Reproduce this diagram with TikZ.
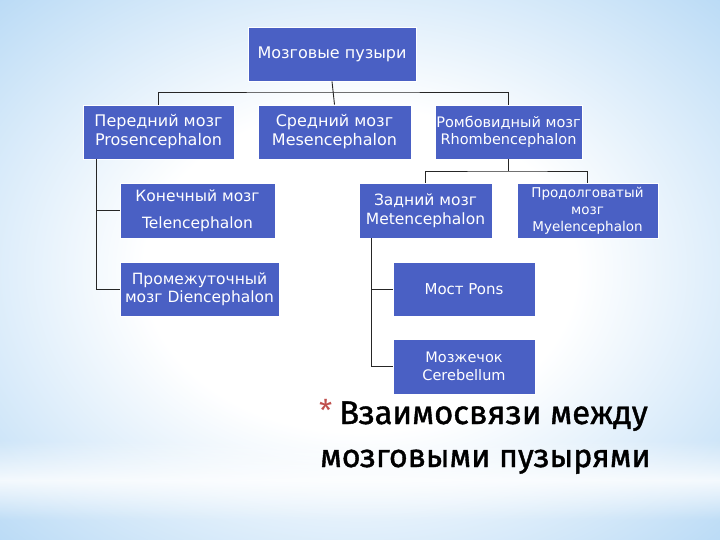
\documentclass[tikz,border=0pt]{standalone}
\usepackage{fontspec}
\setmainfont{DejaVu Sans}
\newfontfamily\titlefont[FakeBold=1.2]{Fira Sans}
\newfontfamily\starfont{Fira Sans}
\usetikzlibrary{fadings}
\definecolor{boxblue}{RGB}{74,96,196}
\definecolor{bgblue}{RGB}{145,197,240}
\definecolor{starred}{RGB}{192,80,77}
\pgfdeclareradialshading{bgshade}{\pgfpoint{0bp}{0bp}}{color(0bp)=(white); color(15bp)=(white); color(48bp)=(bgblue); color(72bp)=(bgblue)}
\tikzfading[name=bandfade, top color=transparent!100, bottom color=transparent!100, middle color=transparent!20]
\tikzset{
  box/.style={draw=white, line width=0.8pt, fill=boxblue, text=white, inner sep=0pt, align=center, font=\fontsize{16}{19}\selectfont},
  conn/.style={draw=black!85, line width=0.9pt}
}
\begin{document}
\begin{tikzpicture}[x=1pt,y=-1pt]
\useasboundingbox (0,0) rectangle (720,540);
\shade[shading=bgshade] (0,0) rectangle (720,540);
\fill[white, path fading=bandfade] (0,440) rectangle (720,520);
% level 0
\node[box, minimum width=168, minimum height=54] (top) at (332,54) {Мозговые пузыри};
% level 1
\node[box, minimum width=151, minimum height=54] (pros) at (158.5,132) {Передний мозг\\Prosencephalon};
\node[box, minimum width=153, minimum height=54] (mes) at (334.5,132) {Средний мозг\\Mesencephalon};
\node[box, minimum width=147, minimum height=54, font=\fontsize{14.5}{17}\selectfont] (rhomb) at (508.5,132) {Ромбовидный мозг\\Rhombencephalon};
% level 2
\node[box, minimum width=155, minimum height=55, font=\fontsize{15.5}{27}\selectfont] (tel) at (197.5,210.5) {Конечный мозг\\Telencephalon};
\node[box, minimum width=159, minimum height=54, font=\fontsize{15.5}{18}\selectfont] (dien) at (199.5,289) {Промежуточный\\мозг Diencephalon};
\node[box, minimum width=133, minimum height=55, font=\fontsize{15.5}{19}\selectfont] (met) at (425.5,210.5) {Задний мозг\\Metencephalon};
\node[box, minimum width=141, minimum height=55, font=\fontsize{13.5}{17}\selectfont] (mye) at (587.5,210.5) {Продолговатый\\мозг\\Myelencephalon};
% level 3
\node[box, minimum width=142, minimum height=54, font=\fontsize{15}{18}\selectfont] (pons) at (464,289) {Мост Pons};
\node[box, minimum width=142, minimum height=55, font=\fontsize{14.5}{18}\selectfont] (cereb) at (464,366.5) {Мозжечок\\Cerebellum};
% connectors
\coordinate (bus) at (333,92);
\draw[conn] (top.south) -- (mes.north);
\draw[conn] (pros.north) |- (bus) -| (rhomb.north);
\coordinate (rbus) at (508.5,171);
\draw[conn] (rhomb.south) -- (rbus);
\draw[conn] (met.north) |- (rbus) -| (mye.north);
\coordinate (pl) at ([xshift=14pt]pros.south west);
\draw[conn] (pl) |- (tel.west);
\draw[conn] (pl) |- (dien.west);
\coordinate (ml) at ([xshift=13pt]met.south west);
\draw[conn] (ml) |- (pons.west);
\draw[conn] (ml) |- (cereb.west);
% title
\node[anchor=base west, inner sep=0pt, text=starred, font=\starfont\fontsize{30}{30}\selectfont] (star) at (319,421) {*};
\node[anchor=base west, inner sep=0pt, font=\titlefont\fontsize{32.8}{32.8}\selectfont] (t1) at (339,424) {Взаимосвязи между};
\node[anchor=base west, inner sep=0pt, font=\titlefont\fontsize{32.2}{32.2}\selectfont] (t2) at (320,467) {мозговыми пузырями};
\end{tikzpicture}
\end{document}
